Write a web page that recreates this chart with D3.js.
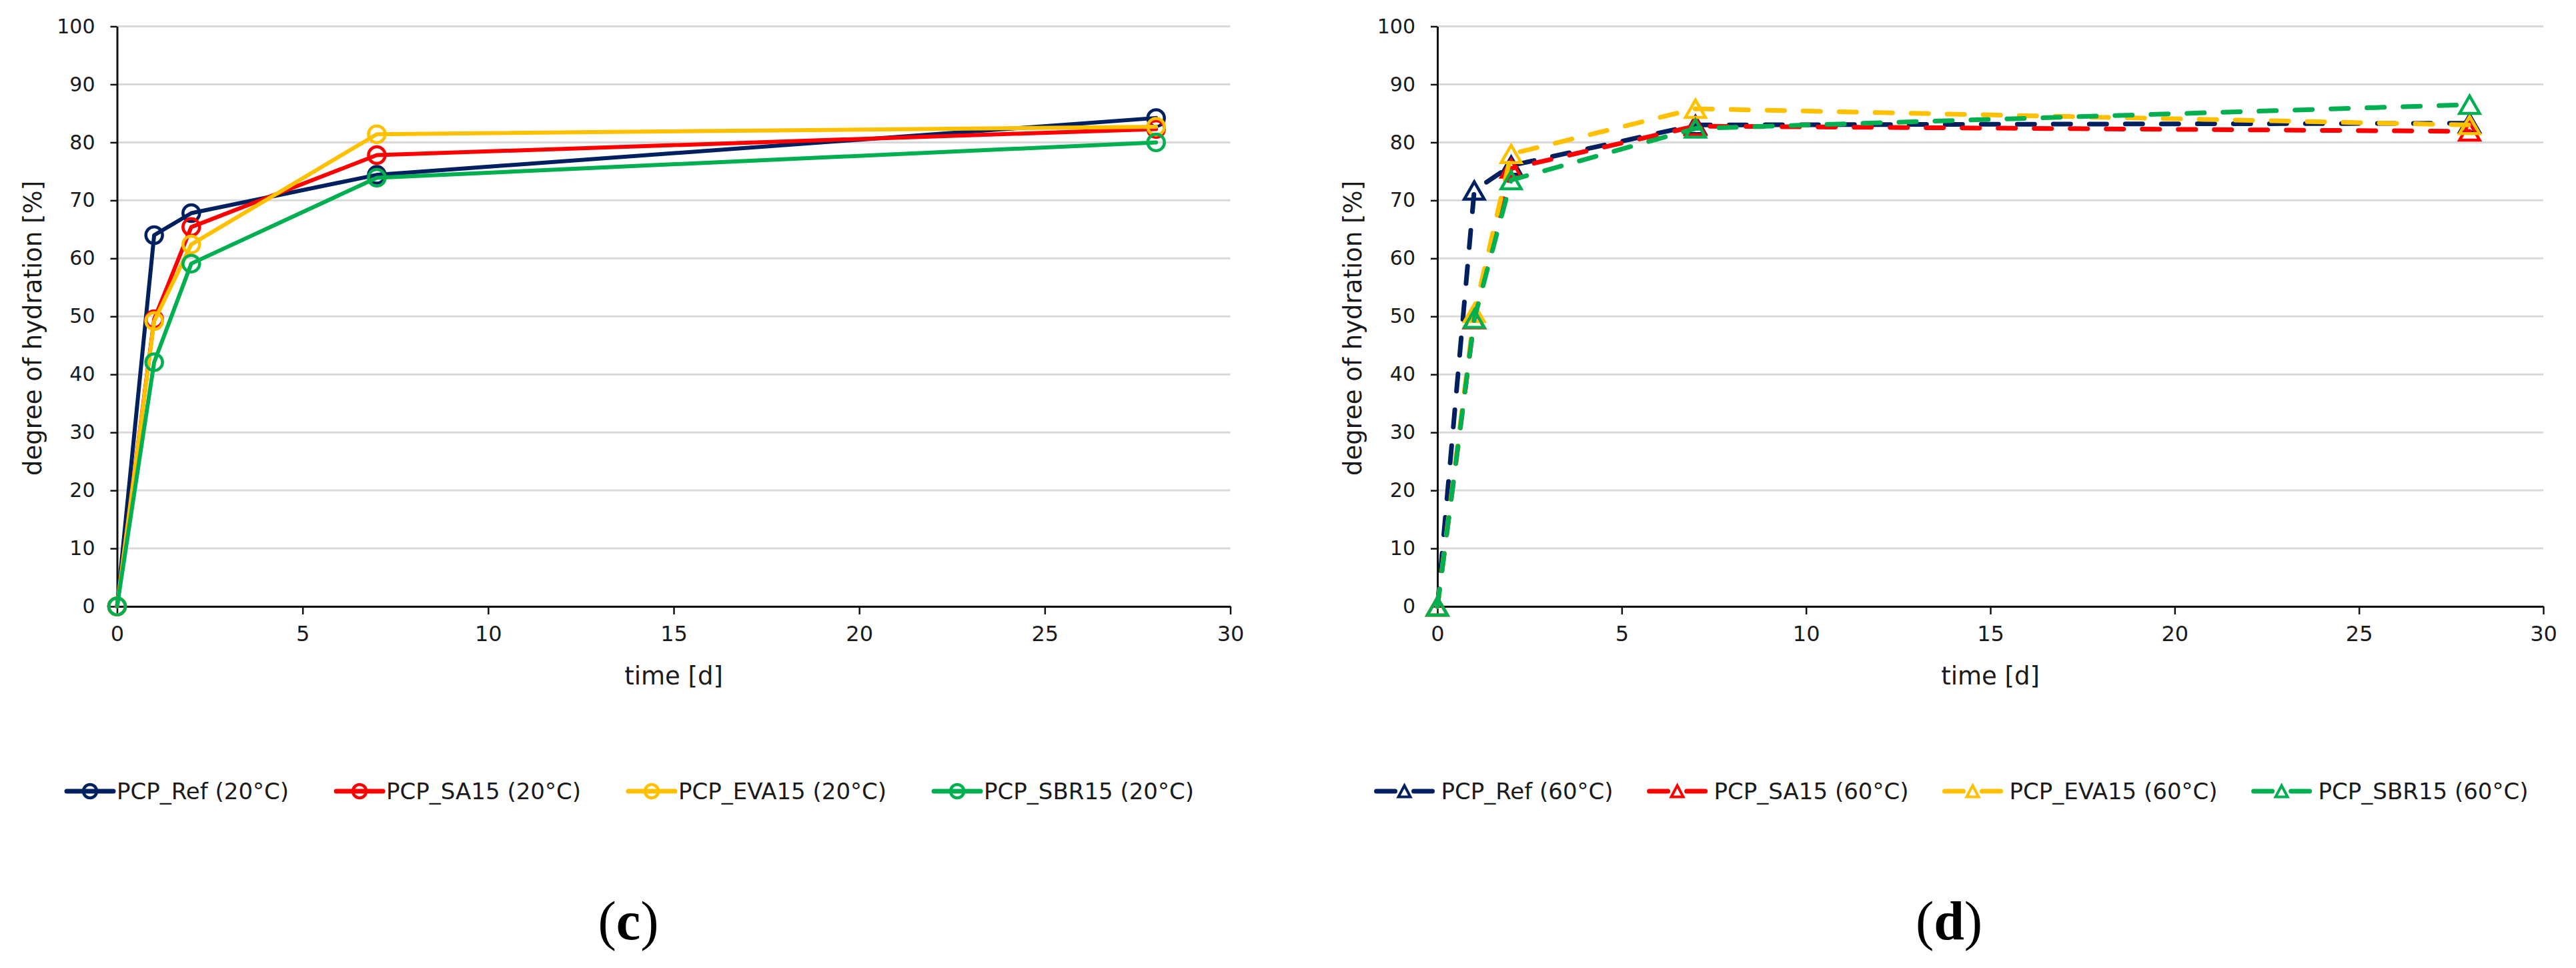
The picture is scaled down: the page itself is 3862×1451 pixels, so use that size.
<!DOCTYPE html>
<html>
<head>
<meta charset="utf-8">
<script src="https://cdn.jsdelivr.net/npm/d3@7"></script>
<style>
  body { margin: 0; background: #fff; }
  svg { display: block; }
</style>
</head>
<body>
<script>
// curing time in days
const days = [0, 1, 2, 7, 28];

// degree of hydration [%], 20°C
const ref20 = [0, 64.0, 67.8, 74.4, 84.2];
const sa20  = [0, 49.5, 65.4, 77.8, 82.3];
const eva20 = [0, 49.2, 62.4, 81.4, 82.7];
const sbr20 = [0, 42.1, 59.1, 73.9, 80.0];

// degree of hydration [%], 60°C
const ref60 = [0, 71.7, 76.0, 83.0, 83.3];
const sa60  = [0, 49.5, 75.5, 82.8, 81.9];
const eva60 = [0, 50.6, 78.0, 85.8, 83.0];
const sbr60 = [0, 49.6, 73.5, 82.4, 86.5];

const names20 = ["PCP_Ref (20°C)", "PCP_SA15 (20°C)", "PCP_EVA15 (20°C)", "PCP_SBR15 (20°C)"];
const names60 = ["PCP_Ref (60°C)", "PCP_SA15 (60°C)", "PCP_EVA15 (60°C)", "PCP_SBR15 (60°C)"];
const colors = ["#002060", "#FF0000", "#FFC000", "#00B050"];

const xTicks = [0, 5, 10, 15, 20, 25, 30];
const yTicks = [0, 10, 20, 30, 40, 50, 60, 70, 80, 90, 100];

const W = 3862, H = 1451;
const font = "'DejaVu Sans', Verdana, sans-serif";

const svg = d3.select("body").append("svg")
    .attr("width", W)
    .attr("height", H);

svg.append("rect").attr("width", W).attr("height", H).attr("fill", "#fff");

function triangle(hw, h) {
    return `M0,${-h / 2}L${hw},${h / 2}L${-hw},${h / 2}Z`;
}

function drawPanel(p) {
    let x = d3.scaleLinear().domain([0, 30]).range([p.left, p.right]);
    let y = d3.scaleLinear().domain([0, 100]).range([909, 39.5]);
    let g = svg.append("g");

    // horizontal gridlines
    g.append("g")
        .selectAll("line")
        .data(yTicks)
        .enter()
        .append("line")
        .attr("x1", x(0))
        .attr("x2", x(30))
        .attr("y1", d => y(d))
        .attr("y2", d => y(d))
        .attr("stroke", "#d9d9d9")
        .attr("stroke-width", 3);

    let xAxis = g.append("g")
        .attr("transform", `translate(0,${y(0)})`)
        .call(d3.axisBottom(x).tickValues(xTicks).tickSize(12).tickSizeOuter(0).tickPadding(17));
    let yAxis = g.append("g")
        .attr("transform", `translate(${x(0)},0)`)
        .call(d3.axisLeft(y).tickValues(yTicks).tickSize(10).tickSizeOuter(0).tickPadding(23));

    [xAxis, yAxis].forEach(a => {
        a.select(".domain").attr("stroke", "#111").attr("stroke-width", 3);
        a.selectAll(".tick line").attr("stroke", "#111").attr("stroke-width", 2.5);
        a.selectAll(".tick text")
            .attr("fill", "#1a1a1a")
            .style("font-family", font);
    });
    xAxis.selectAll(".tick text").style("font-size", "32px");
    yAxis.selectAll(".tick text").style("font-size", "30px");

    // axis titles
    g.append("text")
        .attr("x", (x(0) + x(30)) / 2)
        .attr("y", 1026)
        .attr("text-anchor", "middle")
        .style("font-family", font)
        .style("font-size", "37px")
        .attr("fill", "#1a1a1a")
        .text("time [d]");
    g.append("text")
        .attr("transform", `translate(${x(0) - 114},492) rotate(-90)`)
        .attr("text-anchor", "middle")
        .style("font-family", font)
        .style("font-size", "37px")
        .attr("fill", "#1a1a1a")
        .text("degree of hydration [%]");

    let line = d3.line().x(d => x(d[0])).y(d => y(d[1]));
    let sw = p.dashed ? 7 : 6;

    p.series.forEach((s, i) => {
        let pts = days.map((d, j) => [d, s[j]]);
        g.append("path")
            .datum(pts)
            .attr("d", line)
            .attr("fill", "none")
            .attr("stroke", colors[i])
            .attr("stroke-width", sw)
            .attr("stroke-linejoin", "round")
            .attr("stroke-linecap", "round")
            .attr("stroke-dasharray", p.dashed ? "26,28" : null);

        if (p.dashed) {
            g.append("g")
                .selectAll("path")
                .data(pts)
                .enter()
                .append("path")
                .attr("d", triangle(15, 26))
                .attr("transform", d => `translate(${x(d[0])},${y(d[1])})`)
                .attr("fill", "none")
                .attr("stroke", colors[i])
                .attr("stroke-width", 4.5);
        } else {
            g.append("g")
                .selectAll("circle")
                .data(pts)
                .enter()
                .append("circle")
                .attr("cx", d => x(d[0]))
                .attr("cy", d => y(d[1]))
                .attr("r", 12.5)
                .attr("fill", "none")
                .attr("stroke", colors[i])
                .attr("stroke-width", 4.5);
        }
    });

    // legend, centred under the panel
    let leg = g.append("g");
    let off = p.dashed ? 55 : 40;
    let half = p.dashed ? 42 : 35;
    let items = p.names.map((n, i) => {
        let it = leg.append("g");
        let ln = it.append("line")
            .attr("x1", -half).attr("x2", half)
            .attr("stroke", colors[i])
            .attr("stroke-width", 7)
            .attr("stroke-linecap", "round");
        if (p.dashed) {
            ln.attr("stroke-dasharray", `${half - 14},28`);
            it.append("path")
                .attr("d", triangle(9, 17))
                .attr("fill", "none")
                .attr("stroke", colors[i])
                .attr("stroke-width", 4);
        } else {
            it.append("circle")
                .attr("r", 10)
                .attr("fill", "none")
                .attr("stroke", colors[i])
                .attr("stroke-width", 4.5);
        }
        let t = it.append("text")
            .attr("x", off)
            .attr("dy", "0.36em")
            .style("font-family", font)
            .style("font-size", "34px")
            .attr("fill", "#1a1a1a")
            .text(n);
        return { it: it, w: off + t.node().getComputedTextLength() };
    });
    let gap = p.dashed ? 96 : 106;
    let total = d3.sum(items, d => d.w) + gap * (items.length - 1) + half;
    let cx = p.legendCenter - total / 2 + half;
    items.forEach(d => {
        d.it.attr("transform", `translate(${cx},1186)`);
        cx += d.w + gap;
    });

    // panel letter
    let lab = g.append("text")
        .attr("x", p.labelX)
        .attr("y", 1408)
        .attr("text-anchor", "middle")
        .style("font-family", "'Liberation Serif', 'Times New Roman', serif")
        .style("font-size", "82px")
        .attr("fill", "#000");
    lab.append("tspan").text("(");
    lab.append("tspan").style("font-weight", "bold").text(p.letter);
    lab.append("tspan").text(")");
}

drawPanel({
    left: 175.5, right: 1844.5,
    series: [ref20, sa20, eva20, sbr20],
    names: names20, dashed: false,
    legendCenter: 945, labelX: 942, letter: "c"
});

drawPanel({
    left: 2155, right: 3813,
    series: [ref60, sa60, eva60, sbr60],
    names: names60, dashed: true,
    legendCenter: 2927, labelX: 2922, letter: "d"
});
</script>
</body>
</html>
